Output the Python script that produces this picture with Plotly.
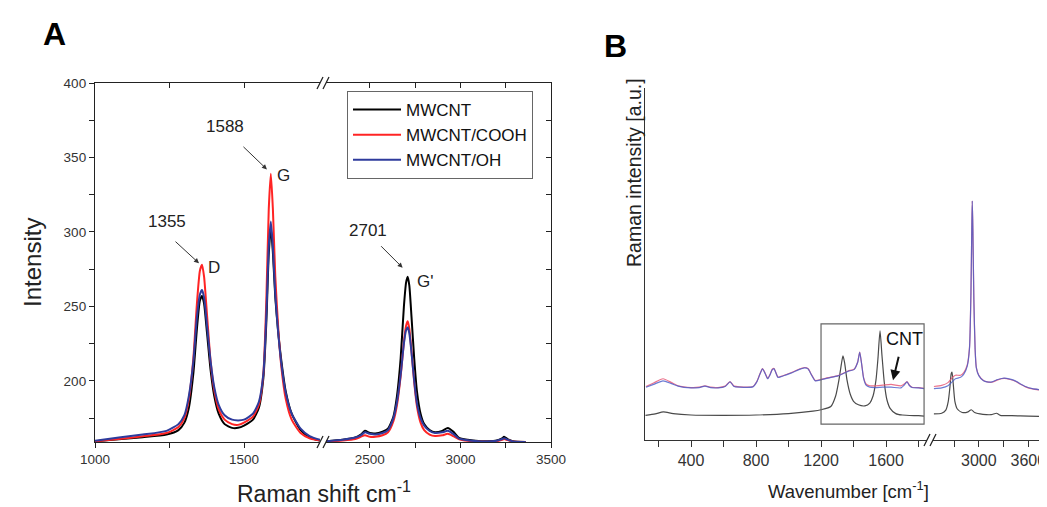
import plotly.graph_objects as go

W, H = 1047, 507
FONT = "Arial, Liberation Sans, sans-serif"

# ---------------- Panel A data ----------------
a_names = ["MWCNT", "MWCNT/COOH", "MWCNT/OH"]
a_colors = ["#000000", "#ff2424", "#2e3b9c"]

a_left_x = [1000, 1080, 1160, 1240, 1280, 1300, 1315, 1330, 1342, 1352, 1359, 1366, 1376, 1388,
            1400, 1415, 1435, 1460, 1480, 1500, 1530, 1550, 1565, 1575, 1583, 1590, 1597, 1605,
            1615, 1625, 1640, 1660, 1690, 1720, 1755]
a_black_left = [159.5, 160.8, 162.2, 164.0, 167.0, 172.0, 182.0, 205.0, 235.0, 254.0, 257.0, 252.0,
                232.0, 207.0, 190.0, 178.0, 171.0, 168.5, 168.5, 170.0, 174.0, 182.0, 202.0, 240.0,
                285.0, 303.0, 286.0, 256.0, 232.0, 214.0, 193.0, 178.0, 167.0, 162.0, 160.0]
a_red_left = [159.5, 161.0, 162.8, 165.0, 169.0, 175.0, 188.0, 215.0, 252.0, 274.0, 278.0, 270.0,
              244.0, 213.0, 194.0, 181.0, 174.0, 171.0, 170.5, 172.0, 176.0, 184.0, 205.0, 255.0,
              315.0, 339.0, 315.0, 270.0, 235.0, 210.0, 188.0, 174.0, 165.0, 161.5, 160.0]
a_blue_left = [159.8, 162.0, 164.0, 166.5, 171.0, 177.0, 190.0, 213.0, 243.0, 258.0, 261.0, 256.0,
               237.0, 213.0, 196.0, 184.0, 177.0, 174.0, 173.5, 174.0, 178.0, 186.0, 205.0, 245.0,
               290.0, 307.0, 290.0, 258.0, 232.0, 212.0, 192.0, 178.0, 168.0, 163.0, 160.5]

a_right_x = [2260, 2350, 2420, 2450, 2473, 2500, 2530, 2570, 2600, 2630, 2650, 2670, 2688, 2700,
             2709, 2718, 2730, 2745, 2760, 2780, 2800, 2830, 2860, 2900, 2930, 2960, 2990, 3040,
             3100, 3150, 3200, 3230, 3241, 3260, 3290, 3360]
a_black_right = [159.5, 160.5, 162.0, 164.0, 166.5, 165.0, 164.7, 166.0, 168.0, 176.0, 190.0, 215.0,
                 250.0, 266.0, 270.0, 264.0, 243.0, 215.0, 193.0, 178.0, 171.0, 167.0, 165.5, 166.5,
                 168.4, 166.0, 162.0, 160.5, 159.6, 159.5, 160.0, 161.5, 162.5, 161.0, 159.5, 159.0]
a_red_right = [159.3, 160.0, 161.0, 162.5, 163.5, 162.5, 162.5, 163.5, 165.5, 173.0, 184.0, 203.0,
               226.0, 237.0, 240.0, 235.0, 220.0, 199.0, 183.0, 172.0, 167.0, 164.0, 163.0, 163.5,
               164.5, 163.0, 161.0, 159.8, 159.3, 159.2, 159.5, 160.5, 161.0, 160.3, 159.3, 159.0]
a_blue_right = [159.5, 160.5, 162.0, 163.5, 165.5, 164.5, 164.0, 165.0, 167.0, 175.0, 186.0, 204.0,
                225.0, 234.0, 236.0, 232.0, 219.0, 200.0, 185.0, 175.0, 170.0, 166.5, 165.0, 165.5,
                166.5, 164.5, 161.5, 160.2, 159.5, 159.4, 159.8, 161.0, 161.5, 160.6, 159.4, 159.0]

# ---------------- Panel B data ----------------
b_black_left_x = [120, 180, 230, 290, 400, 600, 800, 1000, 1150, 1200, 1260, 1290, 1310, 1325, 1335,
                  1345, 1360, 1380, 1400, 1430, 1470, 1500, 1520, 1538, 1550, 1563, 1575, 1590, 1605,
                  1625, 1660, 1700, 1800, 1834]
b_black_left_y = [7.0, 7.4, 8.0, 7.5, 7.1, 7.0, 7.1, 7.5, 8.2, 8.6, 9.5, 12.5, 17.0, 21.5, 23.9,
                  22.0, 17.0, 13.0, 11.0, 10.0, 9.7, 10.5, 12.5, 17.0, 23.0, 31.0, 24.0, 16.0, 11.5,
                  9.0, 7.5, 7.1, 6.9, 6.8]
b_black_right_x = [2456, 2550, 2600, 2630, 2650, 2665, 2675, 2690, 2710, 2740, 2800, 2870, 2909, 2950,
                   3050, 3150, 3215, 3260, 3400, 3600, 3781]
b_black_right_y = [7.4, 7.6, 8.5, 11.0, 15.0, 18.8, 19.3, 16.0, 11.0, 8.8, 7.8, 8.0, 8.6, 7.8,
                   7.3, 7.2, 7.6, 7.0, 6.9, 6.8, 6.7]

b_left_x = [123, 170, 228, 280, 320, 400, 450, 486, 520, 566, 610, 640, 665, 700, 781, 805, 825,
            840, 855, 872, 886, 900, 911, 935, 954, 985, 1015, 1050, 1077, 1100, 1120, 1141, 1165,
            1200, 1243, 1305, 1366, 1403, 1425, 1438, 1450, 1462, 1477, 1500, 1532, 1580, 1631,
            1692, 1712, 1729, 1745, 1760, 1800, 1834]
b_blue_left = [15.0, 15.8, 16.8, 16.0, 15.3, 14.8, 14.9, 15.3, 14.9, 14.8, 15.2, 16.5, 15.2, 15.0,
               15.1, 16.5, 18.8, 20.2, 19.0, 17.4, 18.5, 20.0, 20.2, 17.8, 18.0, 18.5, 19.0, 19.7,
               20.2, 20.5, 20.2, 18.5, 16.8, 17.1, 17.6, 18.2, 19.5, 20.0, 22.0, 24.9, 21.5, 17.5,
               15.6, 15.0, 14.9, 15.0, 15.0, 14.8, 15.6, 16.5, 15.4, 14.9, 14.8, 14.6]
b_red_left = [15.2, 16.2, 17.4, 16.3, 15.4, 14.9, 15.0, 15.4, 15.0, 14.9, 15.3, 16.6, 15.3, 15.1,
              15.2, 16.6, 18.9, 20.3, 19.1, 17.5, 18.6, 20.1, 20.3, 17.9, 18.1, 18.6, 19.1, 19.8,
              20.3, 20.6, 20.3, 18.6, 16.9, 17.2, 17.7, 18.3, 19.6, 20.1, 22.1, 25.0, 21.6, 17.7,
              15.9, 15.4, 15.4, 15.6, 15.8, 15.4, 15.9, 16.6, 15.5, 15.0, 14.9, 14.7]

b_right_x = [2456, 2550, 2626, 2680, 2717, 2780, 2820, 2860, 2887, 2905, 2915, 2921, 2928, 2940,
             2955, 2970, 3000, 3057, 3100, 3159, 3230, 3306, 3380, 3442, 3500, 3566, 3650, 3781]
b_blue_right = [14.6, 14.8, 15.4, 16.6, 17.4, 17.8, 18.8, 21.0, 26.0, 42.0, 60.0, 67.9, 60.0, 40.0,
                26.0, 20.5, 18.3, 16.8, 16.5, 16.5, 17.2, 17.6, 17.3, 16.8, 16.0, 15.2, 14.6, 14.2]
b_red_right = [15.2, 15.5, 16.3, 17.8, 18.4, 18.4, 19.2, 21.3, 26.2, 42.0, 60.0, 67.9, 60.0, 40.0,
               26.0, 20.6, 18.4, 16.9, 16.5, 16.4, 17.1, 17.5, 17.2, 16.7, 15.9, 15.1, 14.5, 14.1]

# tick values
a_left_ticks = [1000, 1250, 1500]
a_left_labels = ["1000", " ", "1500"]
a_right_ticks = [2500, 2750, 3000, 3250, 3500]
a_right_labels = ["2500", " ", "3000", " ", "3500"]
a_y_ticks = [175, 200, 225, 250, 275, 300, 325, 350, 375, 400]
a_y_labels = [" ", "200", " ", "250", " ", "300", " ", "350", " ", "400"]
b_left_ticks = [200, 400, 600, 800, 1000, 1200, 1400, 1600, 1800]
b_left_labels = [" ", "400", " ", "800", " ", "1200", " ", "1600", " "]
b_right_ticks = [2700, 3000, 3300, 3600]
b_right_labels = [" ", "3000", " ", "3600"]

# highlight box in panel B (cm-1, a.u.)
box_x = [1200, 1834]
box_y = [4.5, 33.0]


def fx(p):
    return p / W


def fy(p):
    return 1 - p / H


fig = go.Figure()

a_left_sets = [a_black_left, a_red_left, a_blue_left]
a_right_sets = [a_black_right, a_red_right, a_blue_right]
for name, col, yl, yr in zip(a_names, a_colors, a_left_sets, a_right_sets):
    fig.add_trace(go.Scatter(x=a_left_x, y=yl, mode="lines", name=name,
                             line=dict(color=col, width=2, shape="spline", smoothing=0.6),
                             xaxis="x", yaxis="y", legendgroup=name, showlegend=True))
    fig.add_trace(go.Scatter(x=a_right_x, y=yr, mode="lines", name=name,
                             line=dict(color=col, width=2, shape="spline", smoothing=0.6),
                             xaxis="x2", yaxis="y", legendgroup=name, showlegend=False))

# mirror axes (empty helpers)
fig.add_trace(go.Scatter(x=[], y=[], xaxis="x3", yaxis="y", showlegend=False))
fig.add_trace(go.Scatter(x=[], y=[], xaxis="x4", yaxis="y", showlegend=False))
fig.add_trace(go.Scatter(x=[], y=[], xaxis="x2", yaxis="y2", showlegend=False))

# Panel B traces
b_black = "#4a4a4a"
b_red = "rgba(232,90,120,0.85)"
b_blue = "rgba(70,90,200,0.8)"
for xs, ys, col, xa in [(b_black_left_x, b_black_left_y, b_black, "x5"),
                        (b_black_right_x, b_black_right_y, b_black, "x6"),
                        (b_left_x, b_red_left, b_red, "x5"),
                        (b_right_x, b_red_right, b_red, "x6"),
                        (b_left_x, b_blue_left, b_blue, "x5"),
                        (b_right_x, b_blue_right, b_blue, "x6")]:
    fig.add_trace(go.Scatter(x=xs, y=ys, mode="lines", showlegend=False,
                             line=dict(color=col, width=1.2, shape="spline", smoothing=0.6),
                             xaxis=xa, yaxis="y3"))

AX = dict(showline=True, linecolor="#222", linewidth=1.3, showgrid=False, zeroline=False,
          automargin=False,
          tickcolor="#222", tickwidth=1.2, tickfont=dict(family=FONT, size=13.5, color="#333"))
BX = dict(showline=True, linecolor="#333", linewidth=1.3, showgrid=False, zeroline=False,
          automargin=False,
          tickcolor="#333", tickwidth=1.2, tickfont=dict(family=FONT, size=16, color="#333"))

a_xl_range = [1000, 1755]
a_xr_range = [2258, 3500]
a_y_range = [159, 400]

fig.update_layout(
    width=W, height=H, autosize=False,
    margin=dict(l=0, r=0, t=0, b=0, pad=0),
    paper_bgcolor="white", plot_bgcolor="white",
    xaxis=dict(AX, domain=[fx(87), fx(312)], range=a_xl_range, anchor="y",
               tickvals=a_left_ticks, ticktext=a_left_labels, ticks="outside", ticklen=5),
    xaxis2=dict(AX, domain=[fx(318), fx(543)], range=a_xr_range, anchor="y",
                tickvals=a_right_ticks, ticktext=a_right_labels, ticks="outside", ticklen=5),
    xaxis3=dict(AX, overlaying="x", side="top", range=a_xl_range, anchor="y",
                tickvals=a_left_ticks, ticks="inside", ticklen=5, showticklabels=False),
    xaxis4=dict(AX, overlaying="x2", side="top", range=a_xr_range, anchor="y",
                tickvals=a_right_ticks, ticks="inside", ticklen=5, showticklabels=False),
    yaxis=dict(AX, domain=[fy(434), fy(75)], range=a_y_range, anchor="x",
               tickvals=a_y_ticks, ticktext=a_y_labels, ticks="outside", ticklen=5),
    yaxis2=dict(AX, overlaying="y", side="right", anchor="x2", range=a_y_range,
                tickvals=a_y_ticks, ticks="inside", ticklen=5, showticklabels=False),
    xaxis5=dict(BX, domain=[fx(637), fx(919)], range=[117, 1852], anchor="y3",
                tickvals=b_left_ticks, ticktext=b_left_labels, ticks="outside", ticklen=6),
    xaxis6=dict(BX, domain=[fx(925), fx(1036)], range=[2445, 3790], anchor="y3",
                tickvals=b_right_ticks, ticktext=b_right_labels, ticks="outside", ticklen=6),
    yaxis3=dict(BX, domain=[fy(432), fy(80)], range=[0, 100], anchor="x5",
                ticks="", showticklabels=False),
    legend=dict(x=fx(339), y=fy(83), xanchor="left", yanchor="top", itemwidth=48,
                bgcolor="white", bordercolor="#666", borderwidth=1,
                font=dict(family=FONT, size=17, color="#111"), tracegroupgap=0),
    showlegend=True,
)

ann = []
txt = dict(family=FONT, size=17, color="#222")
C = dict(xanchor="center", yanchor="middle")
# Panel A peak labels
ann.append(dict(C, x=1436, y=371, xref="x", yref="y", text="1588", showarrow=False, font=txt))
ann.append(dict(C, x=1242, y=307, xref="x", yref="y", text="1355", showarrow=False, font=txt))
ann.append(dict(C, x=2489, y=301, xref="x2", yref="y", text="2701", showarrow=False, font=txt))
ann.append(dict(C, x=1631, y=338, xref="x", yref="y", text="G", showarrow=False, font=txt))
ann.append(dict(C, x=1399, y=276, xref="x", yref="y", text="D", showarrow=False, font=txt))
ann.append(dict(C, x=2802, y=267, xref="x2", yref="y", text="G'", showarrow=False, font=txt))
arrow = dict(showarrow=True, arrowhead=2, arrowsize=1, arrowwidth=1, arrowcolor="#333", text="")
ann.append(dict(arrow, x=1577, y=342, xref="x", yref="y", ax=-25, ay=-24))
ann.append(dict(arrow, x=1349, y=279, xref="x", yref="y", ax=-25, ay=-23))
ann.append(dict(arrow, x=2681, y=276, xref="x2", yref="y", ax=-23, ay=-23))
# Panel B label
ann.append(dict(C, x=1711, y=28.7, xref="x5", yref="y3", text="CNT", showarrow=False,
                font=dict(family=FONT, size=18, color="#111")))
ann.append(dict(x=1643, y=17.0, xref="x5", yref="y3", ax=6, ay=-25, text="", showarrow=True,
                arrowhead=2, arrowsize=1, arrowwidth=2, arrowcolor="#111"))
# Titles
ann.append(dict(C, x=fx(316), y=fy(484), xref="paper", yref="paper", showarrow=False,
                text="Raman shift cm<sup>-1</sup>", font=dict(family=FONT, size=23, color="#222")))
ann.append(dict(C, x=fx(24), y=fy(255), xref="paper", yref="paper", showarrow=False, textangle=-90,
                text="Intensity", font=dict(family=FONT, size=24, color="#222")))
ann.append(dict(C, x=fx(840), y=fy(482), xref="paper", yref="paper", showarrow=False,
                text="Wavenumber [cm<sup>-1</sup>]", font=dict(family=FONT, size=18.5, color="#222")))
ann.append(dict(C, x=fx(626), y=fy(165), xref="paper", yref="paper", showarrow=False, textangle=-90,
                text="Raman intensity [a.u.]", font=dict(family=FONT, size=19.5, color="#222")))
ann.append(dict(C, x=fx(46), y=fy(26), xref="paper", yref="paper", showarrow=False,
                text="<b>A</b>", font=dict(family=FONT, size=32, color="#000")))
ann.append(dict(C, x=fx(607), y=fy(38), xref="paper", yref="paper", showarrow=False,
                text="<b>B</b>", font=dict(family=FONT, size=32, color="#000")))
fig.update_layout(annotations=ann)

shapes = []
shapes.append(dict(type="rect", xref="x5", yref="y3", x0=box_x[0], x1=box_x[1], y0=box_y[0], y1=box_y[1],
                   line=dict(color="#666", width=1.2)))
# axis break marks
for (cx, cy) in [(315, 75), (315, 434), (922, 432)]:
    for dx in (-3, 3):
        shapes.append(dict(type="line", xref="paper", yref="paper",
                           x0=fx(cx + dx - 3), y0=fy(cy + 6), x1=fx(cx + dx + 3), y1=fy(cy - 6),
                           line=dict(color="#222", width=1.3)))
fig.update_layout(shapes=shapes)

fig.write_html("out.html")
